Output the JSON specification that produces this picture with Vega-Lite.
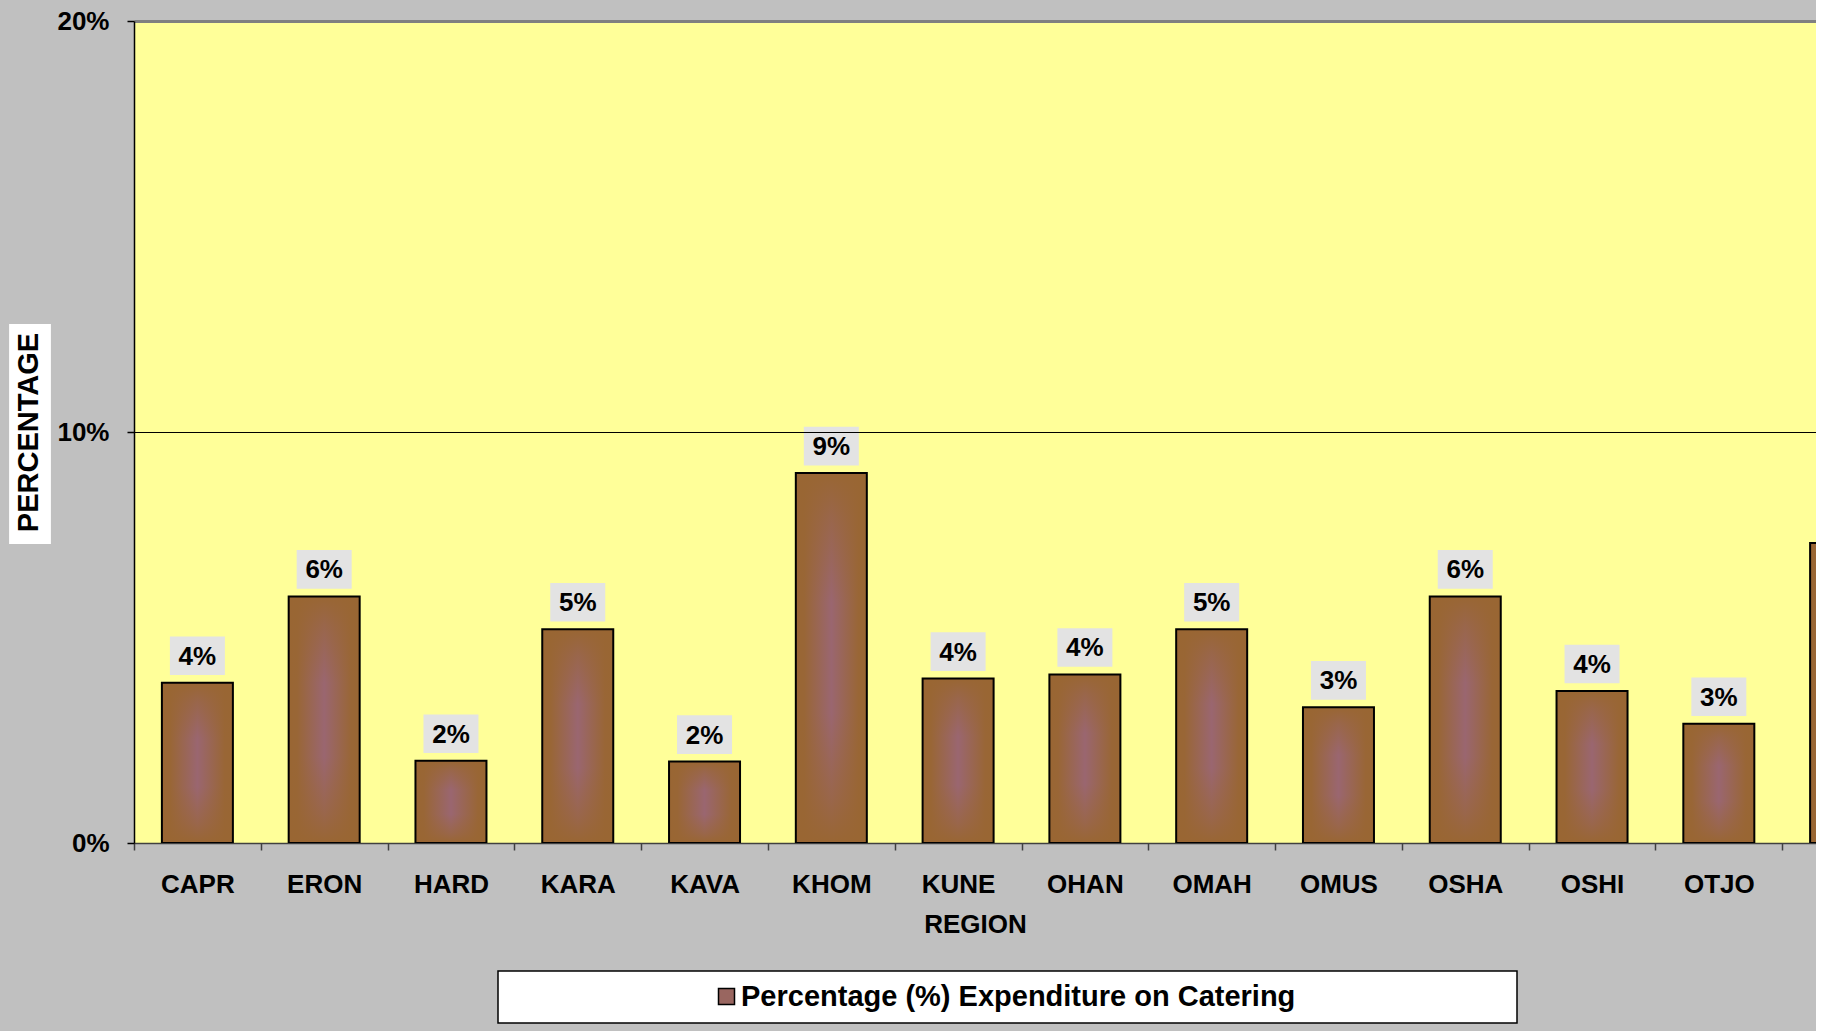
{
  "$schema": "https://vega.github.io/schema/vega-lite/v6.json",
  "autosize": {"type": "none"},
  "padding": {"left": 134, "top": 21, "right": 0, "bottom": 188},
  "width": 1682,
  "height": 822,
  "background": "#C0C0C0",
  "config": {
    "view": {"fill": "#FFFF99", "stroke": null},
    "font": "Liberation Sans",
    "legend": {"strokeWidth": 1.5}
  },
  "data": {
    "values": [
      {"region": "CAPR", "pct": 0.039},
      {"region": "ERON", "pct": 0.060},
      {"region": "HARD", "pct": 0.020},
      {"region": "KARA", "pct": 0.052},
      {"region": "KAVA", "pct": 0.0198},
      {"region": "KHOM", "pct": 0.090},
      {"region": "KUNE", "pct": 0.040},
      {"region": "OHAN", "pct": 0.041},
      {"region": "OMAH", "pct": 0.052},
      {"region": "OMUS", "pct": 0.033},
      {"region": "OSHA", "pct": 0.060},
      {"region": "OSHI", "pct": 0.037},
      {"region": "OTJO", "pct": 0.029},
      {"region": "NAT", "pct": 0.073}
    ]
  },
  "encoding": {
    "x": {
      "field": "region",
      "type": "nominal",
      "sort": null,
      "scale": {"range": [0, 1775], "paddingInner": 0, "paddingOuter": 0},
      "axis": {
        "title": "REGION",
        "titleX": 841,
        "labelAngle": 0,
        "labelExpr": "datum.label === 'NAT' ? '' : datum.label",
        "labelFont": "Liberation Sans",
        "labelFontSize": 26,
        "labelFontWeight": "bold",
        "labelColor": "black",
        "labelPadding": 21,
        "domainColor": "#404040",
        "domainWidth": 1.5,
        "tickColor": "#404040",
        "tickWidth": 1.5,
        "tickSize": 7,
        "tickBand": "extent",
        "titleFont": "Liberation Sans",
        "titleFontSize": 26,
        "titleFontWeight": "bold",
        "titleColor": "black",
        "titlePadding": 14,
        "grid": false
      }
    },
    "y": {
      "field": "pct",
      "type": "quantitative",
      "scale": {"domain": [0, 0.2], "nice": false},
      "axis": {
        "title": "PERCENTAGE",
        "titleX": -106,
        "titleY": 411,
        "titleAngle": -90,
        "titleAlign": "center",
        "titleBaseline": "middle",
        "titleFont": "Liberation Sans",
        "titleFontSize": 29,
        "titleFontWeight": "bold",
        "titleColor": "black",
        "zindex": 1,
        "values": [0, 0.1, 0.2],
        "format": ".0%",
        "labelFont": "Liberation Sans",
        "labelFontSize": 26,
        "labelFontWeight": "bold",
        "labelColor": "black",
        "labelPadding": 18,
        "domainColor": "black",
        "domainWidth": 1.5,
        "tickColor": "black",
        "tickWidth": 1.5,
        "tickSize": 7,
        "grid": true,
        "gridColor": {"condition": {"test": "datum.value === 0.1", "value": "black"}, "value": "#808080"},
        "gridWidth": {"condition": {"test": "datum.value === 0.1", "value": 1.2}, "value": 3},
        "gridOpacity": {"condition": {"test": "datum.value === 0", "value": 0}, "value": 1}
      }
    }
  },
  "layer": [
    {
      "mark": {
        "type": "bar",
        "clip": true,
        "width": {"band": 0.56},
        "strokeWidth": 0,
        "fill": {
          "gradient": "linear",
          "x1": 0, "y1": 0, "x2": 1, "y2": 0,
          "stops": [
            {"offset": 0, "color": "#996633"},
            {"offset": 0.12, "color": "#996636"},
            {"offset": 0.5, "color": "#9A6670"},
            {"offset": 0.88, "color": "#996636"},
            {"offset": 1, "color": "#996633"}
          ]
        }
      }
    },
    {
      "mark": {
        "type": "bar",
        "clip": true,
        "width": {"band": 0.56},
        "stroke": "black",
        "strokeWidth": 2,
        "fill": {
          "gradient": "linear",
          "x1": 0, "y1": 0, "x2": 0, "y2": 1,
          "stops": [
            {"offset": 0, "color": "rgba(153,102,51,1)"},
            {"offset": 0.12, "color": "rgba(153,102,51,0.6)"},
            {"offset": 0.35, "color": "rgba(153,102,51,0)"},
            {"offset": 0.65, "color": "rgba(153,102,51,0)"},
            {"offset": 0.88, "color": "rgba(153,102,51,0.6)"},
            {"offset": 1, "color": "rgba(153,102,51,1)"}
          ]
        }
      }
    },
    {
      "transform": [{"filter": "datum.region !== 'NAT'"}],
      "mark": {
        "type": "point",
        "clip": true,
        "filled": true,
        "opacity": 1,
        "fill": "#E3E3E3",
        "strokeWidth": 0,
        "shape": "M-1.425,-1H1.425V1H-1.425Z",
        "size": 1490,
        "yOffset": -27
      }
    },
    {
      "transform": [{"filter": "datum.region !== 'NAT'"}],
      "mark": {
        "type": "text",
        "clip": true,
        "font": "Liberation Sans",
        "fontSize": 26,
        "fontWeight": "bold",
        "color": "black",
        "baseline": "middle",
        "yOffset": -26
      },
      "encoding": {"text": {"field": "pct", "type": "quantitative", "format": ".0%"}}
    },
    {
      "transform": [{"filter": "false"}],
      "mark": {"type": "point", "filled": true, "stroke": "black"},
      "encoding": {
        "color": {
          "datum": "Percentage (%) Expenditure on Catering",
          "type": "nominal",
          "scale": {"range": ["#996660"]},
          "legend": {
            "title": null,
            "orient": "none",
            "legendX": 364,
            "legendY": 950,
            "fillColor": "white",
            "strokeColor": "black",
            "padding": 11,
            "symbolType": "square",
            "symbolSize": 256,
            "symbolStrokeColor": "black",
            "symbolStrokeWidth": 1.5,
            "symbolOpacity": 1,
            "symbolOffset": 203,
            "labelOffset": 0,
            "labelFont": "Liberation Sans",
            "labelFontSize": 29,
            "labelFontWeight": "bold",
            "labelColor": "black",
            "labelLimit": 2000,
            "labelExpr": "datum.label + '\u2800\u2800\u2800\u2800\u2800\u2800\u2800\u2800\u2800\u2800'"
          }
        }
      }
    },
    {
      "transform": [{"filter": "false"}],
      "mark": {"type": "point", "filled": true, "color": "white", "strokeWidth": 0, "opacity": 1},
      "encoding": {
        "shape": {
          "datum": "PERCENTAGE",
          "type": "nominal",
          "scale": {"range": ["M-0.19,-1H0.19V1H-0.19Z"]},
          "legend": {
            "title": null,
            "orient": "none",
            "legendX": -214,
            "legendY": 303,
            "zindex": 0,
            "padding": 0,
            "symbolSize": 48400,
            "symbolFillColor": "white",
            "symbolStrokeWidth": 0,
            "symbolOpacity": 1,
            "labelOffset": 0,
            "labelExpr": "''"
          }
        }
      }
    }
  ]
}
